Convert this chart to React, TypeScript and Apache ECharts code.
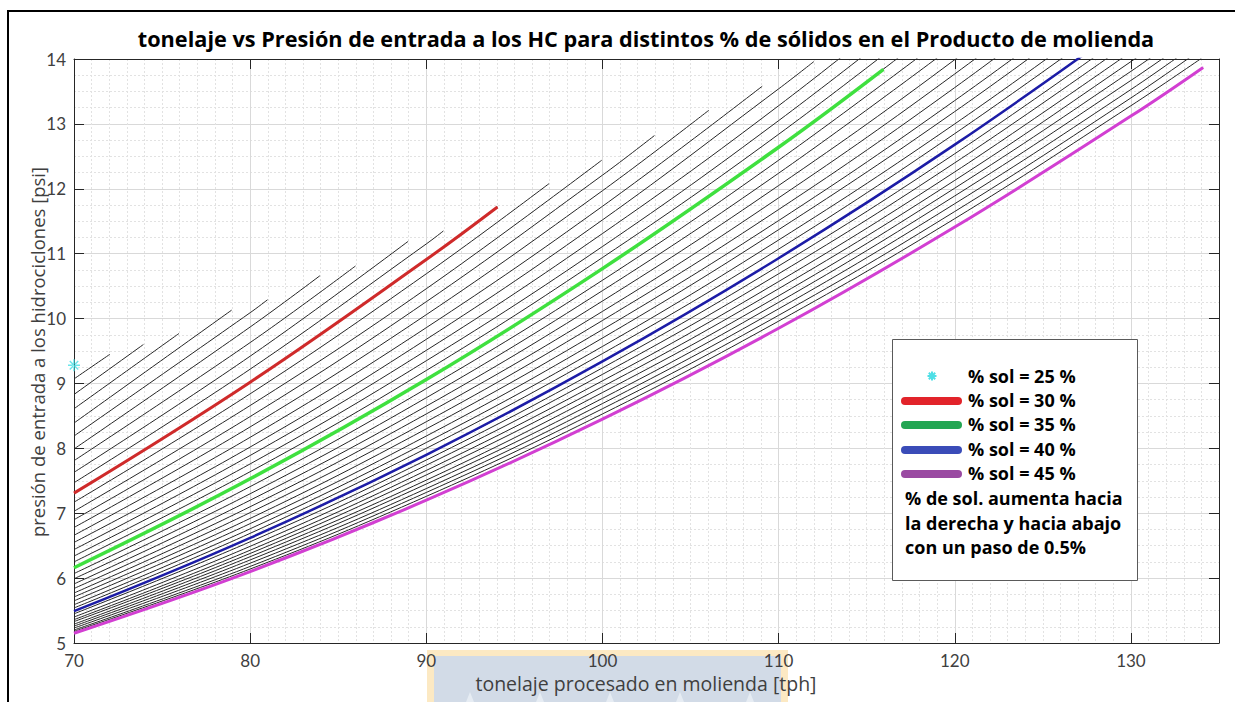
import React, { useEffect, useRef } from "react";
import * as echarts from "echarts";

// % solids of each curve (step 0.5 %)
const solids = [
  25.5, 26, 26.5, 27, 27.5, 28, 28.5, 29, 29.5, 30,
  30.5, 31, 31.5, 32, 32.5, 33, 33.5, 34, 34.5, 35,
  35.5, 36, 36.5, 37, 37.5, 38, 38.5, 39, 39.5, 40,
  40.5, 41, 41.5, 42, 42.5, 43, 43.5, 44, 44.5, 45,
];

// tonnage positions where pressures were read
const xSteps = [70, 80, 90, 100, 110, 120, 130];

// pressure [psi] of each curve at xSteps (as many as the curve spans)
const pressureAtSteps: number[][] = [
  [9.07],
  [8.83],
  [8.61],
  [8.39],
  [8.19, 10.09],
  [7.99, 9.87],
  [7.81, 9.63],
  [7.63, 9.42],
  [7.47, 9.22, 11.15],
  [7.31, 9.02, 10.91],
  [7.17, 8.84, 10.69],
  [7.03, 8.66, 10.46],
  [6.9, 8.49, 10.26, 12.21],
  [6.78, 8.33, 10.06, 11.97],
  [6.66, 8.17, 9.86, 11.73],
  [6.55, 8.02, 9.68, 11.52, 13.54],
  [6.44, 7.89, 9.51, 11.31, 13.28, 15.43],
  [6.34, 7.76, 9.35, 11.11, 13.05, 15.16],
  [6.25, 7.64, 9.2, 10.94, 12.84, 14.92],
  [6.16, 7.53, 9.06, 10.77, 12.64, 14.69],
  [6.07, 7.41, 8.92, 10.59, 12.44, 14.45],
  [5.99, 7.3, 8.78, 10.43, 12.24, 14.22],
  [5.91, 7.2, 8.65, 10.27, 12.05, 13.99, 16.1],
  [5.84, 7.1, 8.53, 10.11, 11.86, 13.77, 15.84],
  [5.77, 7.01, 8.41, 9.97, 11.68, 13.56, 15.6],
  [5.71, 6.92, 8.3, 9.83, 11.51, 13.36, 15.36],
  [5.65, 6.84, 8.19, 9.7, 11.37, 13.19, 15.17],
  [5.59, 6.76, 8.09, 9.57, 11.21, 13.0, 14.95],
  [5.54, 6.69, 8.0, 9.46, 11.07, 12.85, 14.78],
  [5.49, 6.62, 7.9, 9.34, 10.93, 12.68, 14.59],
  [5.45, 6.56, 7.82, 9.24, 10.81, 12.54, 14.43],
  [5.4, 6.49, 7.74, 9.14, 10.69, 12.4, 14.27],
  [5.36, 6.43, 7.66, 9.04, 10.57, 12.26, 14.11],
  [5.33, 6.38, 7.59, 8.95, 10.46, 12.13, 13.96],
  [5.29, 6.33, 7.51, 8.86, 10.35, 12.01, 13.81],
  [5.26, 6.28, 7.45, 8.77, 10.25, 11.89, 13.67],
  [5.23, 6.23, 7.38, 8.69, 10.15, 11.77, 13.53],
  [5.2, 6.18, 7.32, 8.61, 10.05, 11.65, 13.4],
  [5.18, 6.14, 7.26, 8.53, 9.96, 11.54, 13.28],
  [5.15, 6.1, 7.2, 8.45, 9.85, 11.41, 13.12],
];

// last point [tph, psi] of each curve (null: runs out through the top)
const curveEnds: (number[] | null)[] = [
  [72.04, 9.45], [73.94, 9.6], [75.96, 9.77], [78.95, 10.13], [80.99, 10.29],
  [83.96, 10.66], [85.98, 10.81], [88.97, 11.19], [90.97, 11.35], [94.04, 11.72],
  [96.97, 12.08], [99.96, 12.44], [102.95, 12.82], [106.04, 13.21], [109.07, 13.58],
  [112.0, 13.96], null, null, null, null,
  null, null, null, null, null, null, null, null, null, null,
  null, null, null, [134, 14.73], [134, 14.58], [134, 14.43], [134, 14.29], [134, 14.15],
  [134, 14.01], [134.1, 13.87],
];

// 25 % solids: single point
const sol25Point = [70, 9.28];

// green (35 %) highlighted curve is shorter than its black twin
const greenValues = [6.16, 7.53, 9.06, 10.77, 12.64];
const greenEnd = [115.95, 13.84];

const highlights = [
  { pct: 30, color: "#cf2a2a", width: 3 },
  { pct: 35, color: "#3fe03f", width: 3.5 },
  { pct: 40, color: "#1c1ca6", width: 2.5 },
  { pct: 45, color: "#d23fd2", width: 3 },
];

const legendRows = ["% sol = 25 %", "% sol = 30 %", "% sol = 35 %", "% sol = 40 %", "% sol = 45 %"];
const legendSwatches = ["#e2232a", "#23a653", "#3a4cb8", "#9a4aa2"];
const legendNote = ["% de sol. aumenta hacia", "la derecha y hacia abajo", "con un paso de 0.5%"];

const titleText =
  "tonelaje vs Presión de entrada a los HC para distintos % de sólidos en el Producto de molienda";
const xName = "tonelaje procesado en molienda [tph]";
const yName = "presión de entrada a los hidrociclones [psi]";

function curvePoints(i: number): number[][] {
  const vals = pressureAtSteps[i];
  const pts = vals.map((v, j) => [xSteps[j], v]);
  const end = curveEnds[i];
  if (end) pts.push(end);
  return pts;
}

const FONT = "'Open Sans', Lato, sans-serif";
const TICKFONT = "Lato, 'Open Sans', sans-serif";

export default function App() {
  const ref = useRef<HTMLDivElement>(null);
  useEffect(() => {
    if (!ref.current) return;
    const chart = echarts.init(ref.current, undefined, { renderer: "svg" });

    const blackSeries = solids.map((s, i) => ({
      type: "line",
      name: `${s} %`,
      data: curvePoints(i),
      symbol: "none",
      smooth: 0.4,
      clip: true,
      lineStyle: { color: "#262626", width: 1 },
      z: 2,
      silent: true,
    }));

    const colorSeries = highlights.map((h) => {
      const idx = solids.indexOf(h.pct);
      let data = curvePoints(idx);
      if (h.pct === 35) {
        data = greenValues.map((v, j) => [xSteps[j], v]);
        data.push(greenEnd);
      }
      return {
        type: "line",
        name: `% sol = ${h.pct} %`,
        data,
        symbol: "none",
        smooth: 0.4,
        clip: true,
        lineStyle: { color: h.color, width: h.width },
        z: 3,
        silent: true,
      };
    });

    const asteriskPath =
      "path://M-0.6,-5L0.6,-5L0.6,5L-0.6,5Z M-5,-0.6L5,-0.6L5,0.6L-5,0.6Z M-3.1,-3.95L3.95,3.1L3.1,3.95L-3.95,-3.1Z M-3.1,3.95L3.95,-3.1L3.1,-3.95L-3.95,3.1Z";

    const scatter = {
      type: "scatter",
      name: "% sol = 25 %",
      data: [sol25Point],
      symbol: asteriskPath,
      symbolSize: 12,
      itemStyle: { color: "#45e0e6" },
      z: 4,
      silent: true,
    };

    const rowY = [376, 400, 424, 449, 473];
    const noteY = [498, 523, 547];
    const legendFont = { fontFamily: FONT, fontWeight: "bold", fontSize: 18, lineHeight: 20, fill: "#000" };

    const legendEls: any[] = [
      {
        type: "rect",
        shape: { x: 892.5, y: 339.5, width: 245, height: 241 },
        style: { fill: "#fff", stroke: "#5a5a5a", lineWidth: 1 },
        z: 100,
      },
    ];
    [0, 45, 90, 135].forEach((a) => {
      const r = (a * Math.PI) / 180;
      legendEls.push({
        type: "line",
        shape: {
          x1: 932 - 4.5 * Math.cos(r),
          y1: 376 - 4.5 * Math.sin(r),
          x2: 932 + 4.5 * Math.cos(r),
          y2: 376 + 4.5 * Math.sin(r),
        },
        style: { stroke: "#4fdfe6", lineWidth: 2 },
        z: 101,
      });
    });
    legendSwatches.forEach((c, i) => {
      legendEls.push({
        type: "line",
        shape: { x1: 905, y1: rowY[i + 1] + 1, x2: 958, y2: rowY[i + 1] + 1 },
        style: { stroke: c, lineWidth: 8, lineCap: "round" },
        z: 101,
      });
    });
    legendRows.forEach((t, i) => {
      legendEls.push({
        type: "text",
        style: { text: t, x: 968, y: rowY[i], textVerticalAlign: "middle", ...legendFont },
        z: 101,
      });
    });
    legendNote.forEach((t, i) => {
      legendEls.push({
        type: "text",
        style: { text: t, x: 905, y: noteY[i], textVerticalAlign: "middle", ...legendFont },
        z: 101,
      });
    });

    const watermark: any[] = [
      {
        type: "rect",
        shape: { x: 427, y: 650, width: 361, height: 52 },
        style: { fill: "#fce9c3" },
        z: -5,
      },
      {
        type: "rect",
        shape: { x: 434, y: 656, width: 347, height: 46 },
        style: { fill: "#d2dbe7" },
        z: -4,
      },
    ];
    [470, 540, 610, 680, 750].forEach((cx) => {
      const pts: number[][] = [];
      for (let k = 0; k < 10; k++) {
        const rr = k % 2 === 0 ? 16 : 7;
        const ang = -Math.PI / 2 + (k * Math.PI) / 5;
        pts.push([cx + rr * Math.cos(ang), 708 + rr * Math.sin(ang)]);
      }
      watermark.push({
        type: "polygon",
        shape: { points: pts },
        style: { fill: "#e6ecf3" },
        z: -3,
      });
    });

    const frame: any[] = [
      { type: "line", shape: { x1: 7, y1: 11, x2: 1235, y2: 11 }, style: { stroke: "#000", lineWidth: 2 }, z: 50 },
      { type: "line", shape: { x1: 8, y1: 11, x2: 8, y2: 702 }, style: { stroke: "#000", lineWidth: 2 }, z: 50 },
    ];

    const texts: any[] = [
      {
        type: "text",
        style: {
          text: titleText,
          x: 646,
          y: 38,
          textAlign: "center",
          textVerticalAlign: "middle",
          fontFamily: FONT,
          fontWeight: "bold",
          fontSize: 21.7,
          lineHeight: 24,
          fill: "#000",
        },
        z: 50,
      },
      {
        type: "text",
        style: {
          text: xName,
          x: 646,
          y: 683,
          textAlign: "center",
          textVerticalAlign: "middle",
          fontFamily: FONT,
          fontSize: 19.5,
          lineHeight: 19,
          fill: "#3f3f3f",
        },
        z: 50,
      },
      {
        type: "text",
        x: 37,
        y: 352,
        rotation: Math.PI / 2,
        style: {
          text: yName,
          x: 0,
          y: 0,
          textAlign: "center",
          textVerticalAlign: "middle",
          fontFamily: FONT,
          fontSize: 18.5,
          lineHeight: 20,
          fill: "#3f3f3f",
        },
        z: 50,
      },
    ];

    const axisCommon = {
      axisLine: { show: true, onZero: false, lineStyle: { color: "#262626", width: 1 } },
      axisTick: { show: true, inside: true, length: 10, lineStyle: { color: "#262626" } },
    };

    chart.setOption({
      animation: false,
      backgroundColor: "#fff",
      grid: { left: 74, top: 59, right: 16, bottom: 59, containLabel: false, outerBoundsMode: "none" },
      xAxis: [
        {
          type: "value",
          position: "bottom",
          min: 70,
          max: 135,
          interval: 10,
          ...axisCommon,
          minorTick: { show: false, splitNumber: 10 },
          splitLine: { show: true, lineStyle: { color: "#d9d9d9", width: 1 } },
          minorSplitLine: { show: true, lineStyle: { color: "#e2e2e2", width: 1, type: [2, 2] } },
          axisLabel: {
            color: "#3f3f3f",
            fontSize: 17,
            lineHeight: 16,
            fontFamily: TICKFONT,
            margin: 9,
            showMaxLabel: false,
          },
        },
        {
          type: "value",
          position: "top",
          min: 70,
          max: 135,
          interval: 10,
          ...axisCommon,
          axisLabel: { show: false },
          splitLine: { show: false },
        },
      ],
      yAxis: [
        {
          type: "value",
          position: "left",
          min: 5,
          max: 14,
          interval: 1,
          ...axisCommon,
          minorTick: { show: false, splitNumber: 4 },
          splitLine: { show: true, lineStyle: { color: "#d9d9d9", width: 1 } },
          minorSplitLine: { show: true, lineStyle: { color: "#e2e2e2", width: 1, type: [2, 2] } },
          axisLabel: { color: "#3f3f3f", fontSize: 17, lineHeight: 18, fontFamily: TICKFONT, margin: 8 },
        },
        {
          type: "value",
          position: "right",
          min: 5,
          max: 14,
          interval: 1,
          ...axisCommon,
          axisLabel: { show: false },
          splitLine: { show: false },
        },
      ],
      series: [...blackSeries, ...colorSeries, scatter],
      graphic: [...watermark, ...frame, ...texts, ...legendEls],
    });

    return () => chart.dispose();
  }, []);

  return (
    <div
      ref={ref}
      style={{ position: "fixed", left: 0, top: 0, width: 1235, height: 702, background: "#fff" }}
    />
  );
}
